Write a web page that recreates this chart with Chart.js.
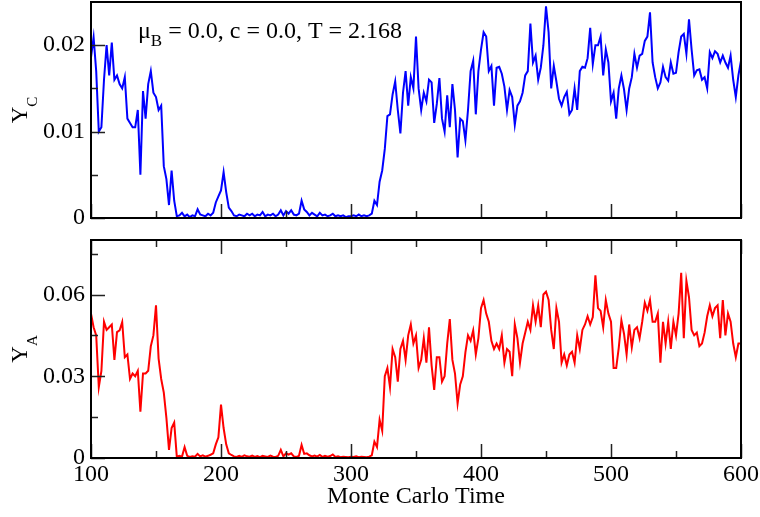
<!DOCTYPE html>
<html>
<head>
<meta charset="utf-8">
<script src="https://cdn.jsdelivr.net/npm/chart.js@4.4.1/dist/chart.umd.min.js"></script>
<style>
  body { margin: 0; background: #fff; }
  canvas { position: absolute; left: 0; }
</style>
</head>
<body>
<canvas id="topChart" width="760" height="236" style="top:0px"></canvas>
<canvas id="botChart" width="760" height="281" style="top:236px"></canvas>
<script>
// sampled every 2 MC steps starting at 100
const tStart = 100, tStep = 2;

// Y_C, in units of 1e-3
const yC = [
  18.6, 20.9, 17, 10, 10.5, 16, 20, 16.5, 20.3, 16,
  16.5, 15.5, 15, 16.3, 11.5, 11, 10.5, 10.5, 12.5, 5,
  14.7, 11.5, 15.5, 17, 14.5, 14, 12.5, 13, 6, 4.5,
  1.5, 5.5, 2, 0.2, 0.3, 0.6, 0.2, 0.4, 0.1, 0.3,
  0.2, 1.0, 0.4, 0.3, 0.2, 0.5, 0.3, 0.6, 1.8, 2.5,
  3.2, 5.3, 3, 1.2, 0.8, 0.3, 0.2, 0.4, 0.3, 0.2,
  0.5, 0.3, 0.5, 0.2, 0.4, 0.3, 0.7, 0.2, 0.4, 0.3,
  0.5, 0.2, 0.4, 0.9, 0.3, 0.8, 0.5, 0.9, 0.4, 0.3,
  0.5, 2.0, 1.0, 0.7, 0.3, 0.6, 0.4, 0.2, 0.6, 0.3,
  0.4, 0.2, 0.3, 0.5, 0.2, 0.3, 0.2, 0.3, 0.1, 0.2,
  0.2, 0.3, 0.2, 0.4, 0.2, 0.3, 0.2, 0.3, 0.5, 2.0,
  1.5, 4.2, 5.5, 8, 11.8, 12, 14.3, 15.8, 12.5, 9.8,
  14.5, 17, 13, 16.3, 15, 21, 15, 12.5, 14.5, 13.5,
  16, 15.7, 11, 13.2, 16.2, 11.5, 10, 14.2, 10.5, 15.5,
  12.5, 7, 11.5, 11.2, 9, 12.5, 17, 18.2, 12, 17,
  19.5, 21.5, 21, 17, 17.6, 13, 17.4, 17.5, 16.7, 15.2,
  12.5, 14.8, 14, 10.8, 13, 13.5, 14.5, 16.5, 17, 22.5,
  18, 18.8, 16, 17.4, 20, 24.5, 21.5, 15, 17.6, 15.8,
  13.8, 13, 14, 14.6, 12, 12.5, 15, 12.5, 17, 17.5,
  17.4, 18.5, 22, 17.8, 20, 20, 21, 16.5, 19.5, 18,
  13.5, 14.5, 11.5, 15, 16.5, 14.9, 12.5, 15, 16.3, 19,
  17.4, 18.8, 19, 20.5, 21, 23.8, 18, 16.3, 15, 15.7,
  17.5, 16.3, 15.9, 18, 16.7, 16.8, 19.2, 21, 21.3, 19,
  23, 19.5, 16.5, 17.1, 17.2, 16, 16.3, 15, 19.2, 18.5,
  19.3, 19, 18, 18.8, 18, 17.4, 18.8, 16, 14, 16.5,
  18.2
];

// Y_A, in units of 1e-3
const yA = [
  53, 48, 45, 26, 32, 50, 47, 48, 49, 36,
  46.2, 46.8, 49.9, 37, 38, 29, 31, 30, 32, 17,
  31, 31, 32, 41, 45, 56, 36.5, 29, 24, 14.7,
  3, 11, 13, 0.5, 0.8, 0.5, 4, 0.8, 0.4, 0.6,
  0.5, 1.5, 0.6, 1.0, 0.5, 0.8, 1.2, 1.7, 5, 7.6,
  19.6, 11, 5, 1.7, 1.1, 0.6, 0.4, 0.8, 0.4, 1.0,
  0.6, 0.5, 0.9, 0.4, 0.7, 0.3, 0.8, 0.6, 0.4, 0.9,
  0.5, 0.4, 0.8, 3, 0.6, 1.7, 1.2, 1.7, 0.6, 0.4,
  0.8, 4.8, 1.5, 1.7, 1.0, 0.6, 0.9, 0.5, 1.1, 0.4,
  0.8, 0.5, 0.7, 1.3, 0.4, 0.6, 0.3, 0.5, 0.4, 0.3,
  0.5, 0.4, 0.6, 0.3, 0.5, 0.4, 0.3, 0.5, 1, 6,
  4, 14, 10, 30, 33, 26, 40, 37, 28, 40,
  43, 36, 45, 49, 42, 45, 33, 36, 44, 35,
  48, 34, 25, 37, 37, 28, 30, 42, 51, 36,
  31, 20, 27, 30, 38.8, 45, 43, 46.8, 38, 44,
  55, 58, 53, 50, 43, 40, 42, 40, 45, 35,
  40, 39, 30, 49, 44, 35, 42, 46, 50, 47,
  56, 50, 56, 48, 60, 61, 58, 47, 40, 55,
  50, 35, 38, 34, 38, 39, 35, 45, 40, 47,
  49, 52, 49, 51.7, 67, 55, 54, 48, 58, 53,
  50, 33, 33, 40.6, 50.5, 45.6, 38, 49, 40.6, 47,
  48, 44, 50, 57, 54, 58, 50, 50, 53, 35,
  50, 42, 50, 40, 50, 45, 53, 68, 44, 65,
  59, 47, 45, 46, 41, 42, 46, 52, 56, 52,
  55, 56, 44, 58, 45, 53, 50, 42, 37, 42,
  42
];

const xTicks = [100, 200, 300, 400, 500, 600];
const xMinor = [150, 250, 350, 450, 550];
const yCTicks = [0, 0.01, 0.02];
const yCMinor = [0.005, 0.015];
const yATicks = [0, 0.03, 0.06];
const yAMinor = [0.015, 0.045, 0.075];

const FONT = "'Liberation Serif', 'Times New Roman', serif";

const toPoints = arr => arr.map((v, i) => ({ x: tStart + i * tStep, y: v / 1000 }));

// frame box + inward tick marks (grace style)
const framePlugin = {
  id: 'frame',
  afterDatasetsDraw(chart, args, opts) {
    const { ctx, chartArea: a, scales } = chart;
    ctx.save();
    ctx.strokeStyle = '#222';
    ctx.lineWidth = 1.5;
    ctx.beginPath();
    const xt = (vals, len) => vals.forEach(v => {
      const px = Math.round(scales.x.getPixelForValue(v)) + 0.5;
      ctx.moveTo(px, a.bottom); ctx.lineTo(px, a.bottom - len);
      if (opts.topTicks) { ctx.moveTo(px, a.top); ctx.lineTo(px, a.top + len); }
    });
    const yt = (vals, len) => vals.forEach(v => {
      const py = Math.round(scales.y.getPixelForValue(v)) + 0.5;
      ctx.moveTo(a.left, py); ctx.lineTo(a.left + len, py);
    });
    xt(xTicks, 14); xt(xMinor, 7);
    yt(opts.major, 14); yt(opts.minor, 7);
    ctx.stroke();
    ctx.strokeStyle = '#000';
    ctx.lineWidth = 2;
    ctx.strokeRect(a.left, a.top, a.right - a.left, a.bottom - a.top);
    ctx.restore();
  }
};

// rotated Y label with subscript, other free text
const labelPlugin = {
  id: 'labels',
  afterDraw(chart, args, opts) {
    const { ctx, chartArea: a } = chart;
    ctx.save();
    ctx.fillStyle = '#000';
    ctx.textBaseline = 'alphabetic';
    ctx.textAlign = 'left';
    // axis label
    ctx.font = '23px ' + FONT;
    const wY = ctx.measureText('Y').width;
    ctx.font = '15px ' + FONT;
    const wS = ctx.measureText(opts.sub).width;
    const cy = (a.top + a.bottom) / 2;
    ctx.translate(27, cy + (wY + wS) / 2);
    ctx.rotate(-Math.PI / 2);
    ctx.font = '23px ' + FONT;
    ctx.fillText('Y', 0, 0);
    ctx.font = '15px ' + FONT;
    ctx.fillText(opts.sub, wY, 10);
    ctx.setTransform(1, 0, 0, 1, 0, 0);
    if (opts.title) {
      ctx.font = '24px ' + FONT;
      ctx.fillText('\u03bc', 138, 38);
      const wm = ctx.measureText('\u03bc').width;
      ctx.font = '17px ' + FONT;
      ctx.fillText('B', 138 + wm, 46);
      const wb = ctx.measureText('B').width;
      ctx.font = '24px ' + FONT;
      ctx.fillText(' = 0.0, c = 0.0, T = 2.168', 138 + wm + wb, 38);
    }
    if (opts.xTitle) {
      ctx.font = '24px ' + FONT;
      ctx.textAlign = 'center';
      ctx.fillText(opts.xTitle, (a.left + a.right) / 2, a.bottom + 45);
    }
    ctx.restore();
  }
};

function makeChart(id, data, color, yMax, major, minor, cfg) {
  return new Chart(document.getElementById(id), {
    type: 'line',
    data: {
      datasets: [{
        data: toPoints(data),
        borderColor: color,
        borderWidth: 2,
        pointRadius: 0,
        tension: 0
      }]
    },
    options: {
      responsive: false,
      animation: false,
      events: [],
      layout: { padding: { top: cfg.padTop, right: 19, left: 0, bottom: 0 } },
      plugins: {
        legend: { display: false },
        tooltip: { enabled: false },
        frame: { major: major, minor: minor, topTicks: cfg.topTicks },
        labels: { sub: cfg.sub, title: cfg.title, xTitle: cfg.xTitle }
      },
      scales: {
        x: {
          type: 'linear',
          min: 100,
          max: 600,
          grid: { display: false, drawTicks: false },
          border: { display: false },
          ticks: {
            display: cfg.xLabels,
            autoSkip: false,
            maxRotation: 0,
            padding: 2,
            color: '#000',
            font: { family: FONT, size: 24 }
          },
          afterBuildTicks: s => { s.ticks = xTicks.map(v => ({ value: v })); },
          afterFit: s => {
            s.height = cfg.xHeight;
            s.paddingLeft = 0; s.paddingRight = 0;
          }
        },
        y: {
          min: 0,
          max: yMax,
          grid: { display: false, drawTicks: false },
          border: { display: false },
          ticks: {
            autoSkip: false,
            padding: 6,
            color: '#000',
            font: { family: FONT, size: 24 },
            callback: v => String(v)
          },
          afterBuildTicks: s => { s.ticks = major.map(v => ({ value: v })); },
          afterFit: s => {
            s.width = 91;
            s.paddingTop = 0; s.paddingBottom = 0;
          }
        }
      }
    },
    plugins: [framePlugin, labelPlugin]
  });
}

makeChart('topChart', yC, '#0000ff', 0.025, yCTicks, yCMinor,
  { padTop: 2, xHeight: 18, xLabels: false, topTicks: false, sub: 'C', title: true });
makeChart('botChart', yA, '#ff0000', 0.08, yATicks, yAMinor,
  { padTop: 4, xHeight: 59, xLabels: true, topTicks: true, sub: 'A', xTitle: 'Monte Carlo Time' });
</script>
</body>
</html>
